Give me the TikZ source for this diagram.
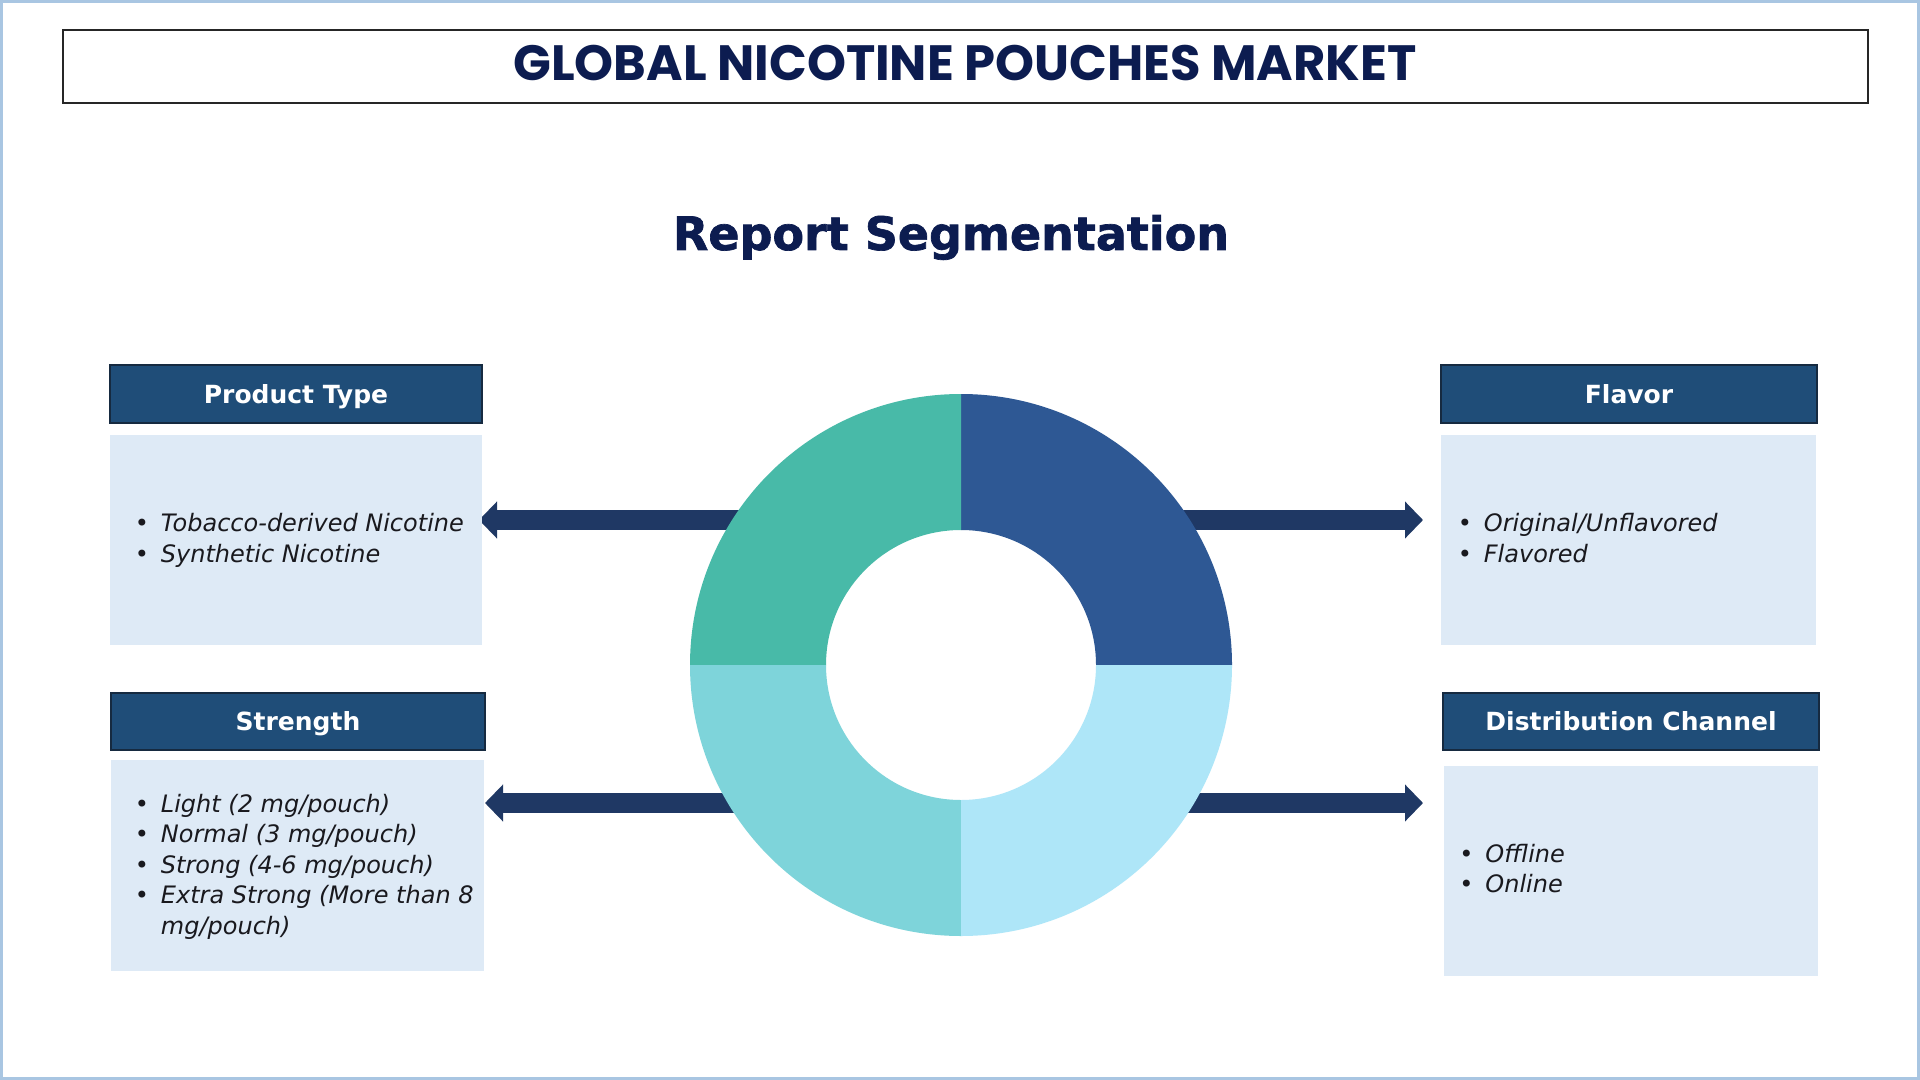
\documentclass[tikz,border=0pt]{standalone}
\usepackage{fontspec}
\setmainfont{DejaVu Sans}
\newfontfamily\titlefont{Poppins}
\newfontfamily\segfont{DejaVu Sans}[BoldFeatures={FakeBold=1.5}]
\usetikzlibrary{arrows.meta}
\definecolor{navy}{RGB}{12,28,80}
\definecolor{hdrfill}{RGB}{31,77,120}
\definecolor{hdrline}{RGB}{22,42,64}
\definecolor{bodyfill}{RGB}{222,234,246}
\definecolor{arrowc}{RGB}{31,56,100}
\definecolor{dTR}{RGB}{46,88,148}
\definecolor{dTL}{RGB}{72,186,168}
\definecolor{dBL}{RGB}{126,212,218}
\definecolor{dBR}{RGB}{174,230,248}
\definecolor{outerc}{RGB}{169,198,226}
\definecolor{txt}{RGB}{25,25,30}
\newcommand\bitem[1]{\makebox[13pt][l]{\upshape\textbullet}#1}
\begin{document}
\begin{tikzpicture}[x=0.5pt,y=-0.5pt,
  hdr/.style={draw=hdrline, line width=1pt, fill=hdrfill, text=white, inner sep=0pt,
    font=\bfseries\fontsize{12.5pt}{15pt}\selectfont, text height=9.1pt, text depth=0pt, anchor=north west},
  bodybox/.style={fill=bodyfill, inner sep=0pt, anchor=north west},
  itm/.style={anchor=base west, inner sep=0pt, text=txt, font=\itshape\fontsize{12pt}{15pt}\selectfont},
  arr/.style={draw=arrowc, line width=10pt, -{Triangle[length=9pt,width=18pt]}, arrowc}
]
\useasboundingbox (0,0) rectangle (1920,1080);
\fill[white] (0,0) rectangle (1920,1080);
\draw[outerc, line width=1.5pt] (1.5,1.5) rectangle (1918.5,1078.5);

% title
\node[draw=black!85, line width=1pt, minimum width=902.5pt, minimum height=36.5pt, anchor=north west, inner sep=0pt] (tbox) at (62,29) {};
\node[anchor=base, text=navy, inner sep=0pt, font=\titlefont\bfseries\fontsize{24.8pt}{28pt}\selectfont] (title) at (965,81) {GLOBAL NICOTINE POUCHES MARKET};
\node[anchor=base, text=navy, inner sep=0pt, font=\segfont\bfseries\fontsize{23pt}{27pt}\selectfont] (seg) at (951,250) {Report Segmentation};

% donut anchor node
\node[circle, minimum size=271pt, inner sep=0pt] (donut) at (961,665) {};

% arrows (start hidden behind the donut ring)
\coordinate (sPT) at (761,520);
\coordinate (sFL) at (1161,520);
\coordinate (sST) at (761,803);
\coordinate (sDC) at (1161,803);
\coordinate (aPT) at (479,520);
\coordinate (aFL) at (1423,520);
\coordinate (aST) at (485,803);
\coordinate (aDC) at (1423,803);
\draw[arr] (sPT) -- (aPT);
\draw[arr] (sFL) -- (aFL);
\draw[arr] (sST) -- (aST);
\draw[arr] (sDC) -- (aDC);

% donut
\fill[dTR] (donut.center) ++(0:135.5pt) arc[start angle=0,end angle=90,radius=135.5pt] -- ++(0pt,-68pt) arc[start angle=90,end angle=0,radius=67.5pt] -- cycle;
\fill[dTL] (donut.center) ++(90:135.5pt) arc[start angle=90,end angle=180,radius=135.5pt] -- ++(68pt,0pt) arc[start angle=180,end angle=90,radius=67.5pt] -- cycle;
\fill[dBL] (donut.center) ++(180:135.5pt) arc[start angle=180,end angle=270,radius=135.5pt] -- ++(0pt,68pt) arc[start angle=270,end angle=180,radius=67.5pt] -- cycle;
\fill[dBR] (donut.center) ++(270:135.5pt) arc[start angle=270,end angle=360,radius=135.5pt] -- ++(-68pt,0pt) arc[start angle=360,end angle=270,radius=67.5pt] -- cycle;

% Product Type
\node[hdr, minimum width=186pt, minimum height=29pt] (hPT) at (109,364) {Product Type};
\node[bodybox, minimum width=186pt, minimum height=105pt] (bPT) at (110,435) {};
\node[itm] (iPT1) at (134.5,531) {\bitem{Tobacco-derived Nicotine}};
\node[itm] (iPT2) at (134.5,562) {\bitem{Synthetic Nicotine}};

% Strength
\node[hdr, minimum width=187pt, minimum height=28.5pt] (hST) at (110,692) {Strength};
\node[bodybox, minimum width=186.5pt, minimum height=105.5pt] (bST) at (111,760) {};
\node[itm] (iST1) at (134.5,812) {\bitem{Light (2 mg/pouch)}};
\node[itm] (iST2) at (134.5,842.5) {\bitem{Normal (3 mg/pouch)}};
\node[itm] (iST3) at (134.5,873) {\bitem{Strong (4-6 mg/pouch)}};
\node[itm] (iST4) at (134.5,903.5) {\bitem{Extra Strong (More than 8}};
\node[itm] (iST5) at (134.5,934) {\hspace*{13pt}mg/pouch)};

% Flavor
\node[hdr, minimum width=188pt, minimum height=29pt] (hFL) at (1440,364) {Flavor};
\node[bodybox, minimum width=187.5pt, minimum height=105pt] (bFL) at (1441,435) {};
\node[itm] (iFL1) at (1457.5,531) {\bitem{Original/Unflavored}};
\node[itm] (iFL2) at (1457.5,562) {\bitem{Flavored}};

% Distribution Channel
\node[hdr, minimum width=188pt, minimum height=28.5pt] (hDC) at (1442,692) {Distribution Channel};
\node[bodybox, minimum width=187pt, minimum height=105pt] (bDC) at (1444,766) {};
\node[itm] (iDC1) at (1459,862) {\bitem{Offline}};
\node[itm] (iDC2) at (1459,892) {\bitem{Online}};
\end{tikzpicture}
\end{document}
